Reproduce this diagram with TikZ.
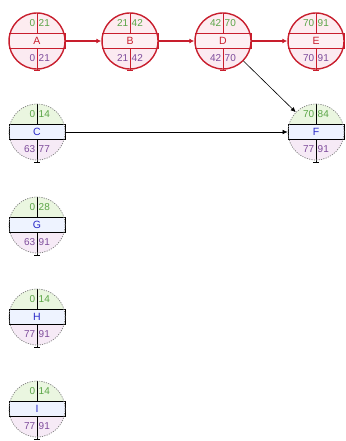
\documentclass[tikz,border=0pt]{standalone}
\usepackage{fontspec}
\setmainfont{Liberation Sans}
\usetikzlibrary{arrows.meta}
\definecolor{critred}{RGB}{200,30,45}
\definecolor{esgreen}{RGB}{90,165,70}
\definecolor{lspurple}{RGB}{125,75,155}
\definecolor{nameblue}{RGB}{40,40,200}
\definecolor{ctop}{RGB}{253,236,240}
\definecolor{cmid}{RGB}{253,240,243}
\definecolor{cbot}{RGB}{251,234,241}
\definecolor{ntop}{RGB}{234,246,224}
\definecolor{nmid}{RGB}{238,243,255}
\definecolor{nbot}{RGB}{246,234,246}
\tikzset{
  num/.style={font=\fontsize{10}{11}\selectfont, inner sep=0pt},
  nm/.style={font=\fontsize{10.5}{11}\selectfont, inner sep=0pt},
  crittop/.style={fill=ctop}, critmid/.style={fill=cmid}, critbot/.style={fill=cbot},
  critline/.style={draw=critred, line width=1pt},
  critcirc/.style={circle, draw=critred, line width=1.4pt, minimum size=56pt, inner sep=0pt},
  critname/.style={text=critred},
  nontop/.style={fill=ntop}, nonmid/.style={fill=nmid}, nonbot/.style={fill=nbot},
  nonline/.style={draw=black, line width=0.9pt},
  noncirc/.style={circle, draw=gray, dash pattern=on 1.2pt off 1.2pt, line width=0.7pt, minimum size=56pt, inner sep=0pt},
  nonname/.style={text=nameblue},
  critedge/.style={draw=critred, line width=1.6pt, -{Latex[length=5pt,width=5pt]}},
  nonedge/.style={draw=black, line width=0.6pt, -{Latex[length=5pt,width=4.5pt]}},
}
\newcommand\pertnode[9]{%
  \begin{scope}[shift={(#2,#3)}]
    \begin{scope}
      \clip (0,0) circle (28pt);
      \fill[#9top] (-28,-28) rectangle (28,-7.5);
      \fill[#9mid] (-28,-7.5) rectangle (28,7.5);
      \fill[#9bot] (-28,7.5) rectangle (28,28);
    \end{scope}
    \draw[#9line] (-28,-7.5) rectangle (28,7.5);
    \draw[#9line] (0,-28) -- (0,-7.5) (0,7.5) -- (0,30) (-3,30) -- (3,30);
    \node[#9circ] (#1) at (0,0) {};
    \node[num, anchor=east, text=esgreen] at (-1.5,-17.5) {#4};
    \node[num, anchor=west, text=esgreen] at (1.5,-17.5) {#5};
    \node[nm, #9name] at (0,0) {#6};
    \node[num, anchor=east, text=lspurple] at (-1.5,17.5) {#7};
    \node[num, anchor=west, text=lspurple] at (1.5,17.5) {#8};
  \end{scope}}
\begin{document}
\begin{tikzpicture}[x=1pt,y=-1pt]
\useasboundingbox (0,0) rectangle (345,441);
\pertnode{A}{37}{41}{0}{21}{A}{0}{21}{crit}
\pertnode{B}{130}{41}{21}{42}{B}{21}{42}{crit}
\pertnode{D}{223}{41}{42}{70}{D}{42}{70}{crit}
\pertnode{E}{316}{41}{70}{91}{E}{70}{91}{crit}
\pertnode{C}{37}{132}{0}{14}{C}{63}{77}{non}
\pertnode{F}{316}{132}{70}{84}{F}{77}{91}{non}
\pertnode{G}{37}{225}{0}{28}{G}{63}{91}{non}
\pertnode{H}{37}{317}{0}{14}{H}{77}{91}{non}
\pertnode{I}{37}{409}{0}{14}{I}{77}{91}{non}
\draw[critedge] (A) -- (B);
\draw[critedge] (B) -- (D);
\draw[critedge] (D) -- (E);
\draw[nonedge] (C) -- (F);
\draw[nonedge] (D) -- (F);
\end{tikzpicture}
\end{document}
